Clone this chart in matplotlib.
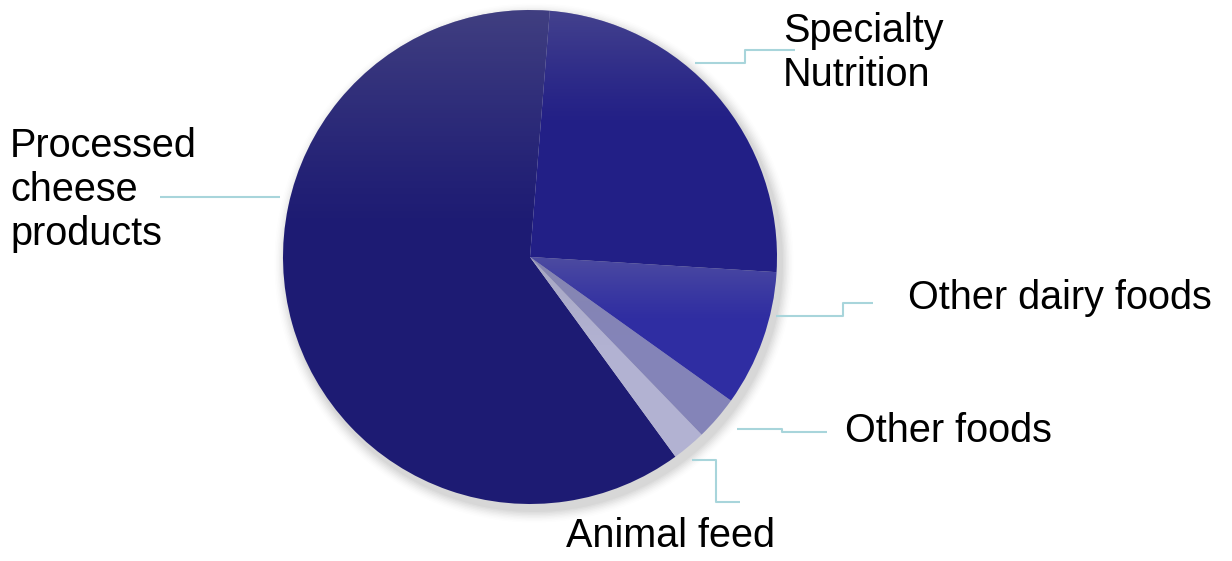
import numpy as np
import matplotlib
matplotlib.use("Agg")
import matplotlib.pyplot as plt
from matplotlib.patches import Circle

labels = ["Processed\ncheese\nproducts", "Animal feed", "Other foods",
          "Other dairy foods", "Specialty\nNutrition"]
shares = [61.3, 2.2, 2.9, 8.9, 24.7]
colors = ["#1d1b73", "#b2b2d2", "#8484b8", "#2f2da2", "#221f86"]

W, H = 1232, 561
fig = plt.figure(figsize=(W / 100, H / 100), dpi=100)
ax = fig.add_axes([0, 0, 1, 1])

cx, cy, r = 530, 561 - 257, 247

# soft shadow under the pie
for i, a in enumerate(np.linspace(0.05, 0.01, 8)):
    ax.add_patch(Circle((cx + 4, cy - 6), r + 2 + i * 1.5, color="#555555",
                        alpha=a, lw=0, zorder=1))

wedges, _ = ax.pie(shares, colors=colors, startangle=85.4, counterclock=True,
                   center=(cx, cy), radius=r, frame=True,
                   wedgeprops=dict(linewidth=0, zorder=2))

# per-wedge lighting: grey haze at the top of each slice
t = np.linspace(1, 0, 256)[:, None] * np.ones((1, 4))
grad = np.zeros((256, 4, 4))
grad[..., :3] = [0.55, 0.55, 0.62]
grad[..., 3] = np.clip((t - 0.55) / 0.45, 0, 1) ** 1.2 * 0.32
for w in wedges:
    bb = w.get_path().get_extents(w.get_patch_transform())
    im = ax.imshow(grad, extent=(bb.x0, bb.x1, bb.y0, bb.y1), zorder=3,
                   interpolation="bilinear", aspect="auto")
    im.set_clip_path(w)

ax.set_xlim(0, W)
ax.set_ylim(0, H)
ax.set_aspect("equal")
ax.axis("off")

lc = "#a8d5db"
lw = 1.5
def leader(xs, ys):
    ax.plot(xs, [H - y for y in ys], color=lc, lw=lw, zorder=4,
            solid_capstyle="butt")

leader([695, 745, 745, 795], [63, 63, 50, 50])
leader([160, 280], [197, 197])
leader([776, 843, 843, 873], [316, 316, 303, 303])
leader([737, 782, 782, 827], [429, 429, 432, 432])
leader([692, 716, 716, 740], [460, 460, 502, 502])

fs = 28.5
font = "Liberation Sans"
ax.text(10, H - 190, labels[0], fontsize=fs, family=font, ha="left",
        va="center", linespacing=1.2)
ax.text(671, H - 536, labels[1], fontsize=fs, family=font, ha="center",
        va="center")
ax.text(845, H - 431, labels[2], fontsize=fs, family=font, ha="left",
        va="center")
ax.text(908, H - 298, labels[3], fontsize=fs, family=font, ha="left",
        va="center")
ax.text(783, H - 53, labels[4], fontsize=fs, family=font, ha="left",
        va="center", linespacing=1.22)

fig.savefig("out.png", dpi=100)
